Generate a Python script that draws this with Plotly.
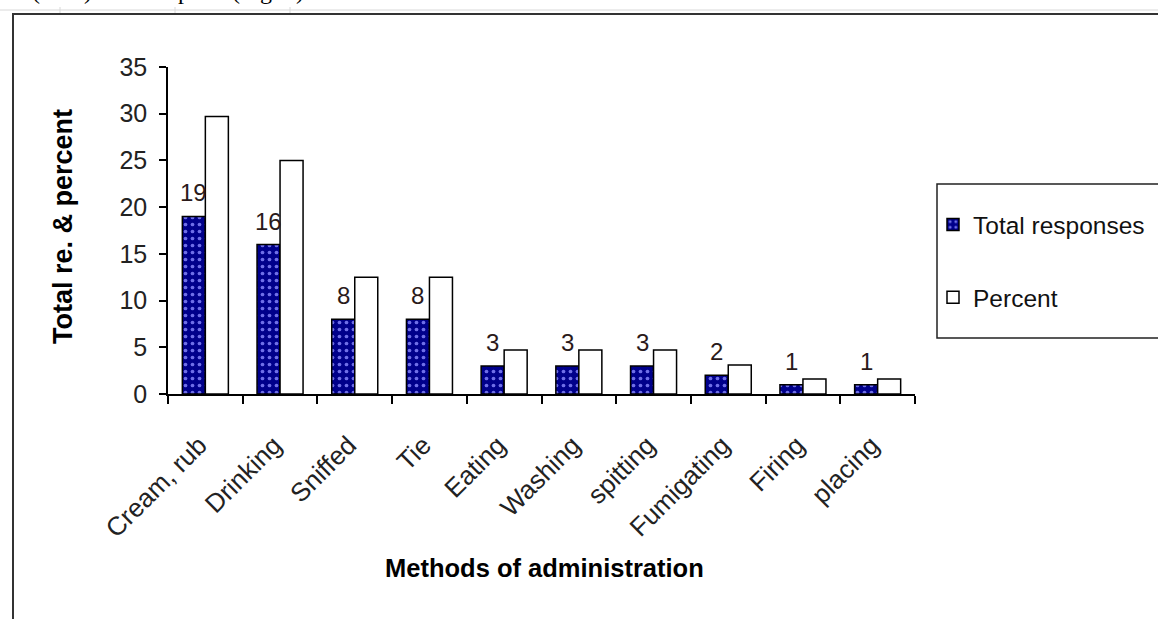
import plotly.graph_objects as go

# Methods of administration and response counts
methods = ["Cream, rub", "Drinking", "Sniffed", "Tie", "Eating", "Washing",
           "spitting", "Fumigating", "Firing", "placing"]
total_responses = [19, 16, 8, 8, 3, 3, 3, 2, 1, 1]
percent = [29.7, 25.0, 12.5, 12.5, 4.7, 4.7, 4.7, 3.1, 1.6, 1.6]
y_ticks = [0, 5, 10, 15, 20, 25, 30, 35]

W, H = 1158, 619
L, R, T, B = 168, 243, 67, 225
PW, PH = W - L - R, H - T - B


def px_x(p):
    return (p - L) / PW


def px_y(p):
    return (H - B - p) / PH


FONT = "Liberation Sans, Arial, sans-serif"

fig = go.Figure()
fig.add_trace(go.Bar(
    x=methods, y=total_responses, name="Total responses",
    legendgroup="a",
    marker=dict(color="#00008b",
                line=dict(color="#000000", width=1.5),
                pattern=dict(shape=".", fgcolor="#6f6fe8", bgcolor="#00008b",
                             size=7, solidity=0.22, fillmode="replace")),
))
fig.add_trace(go.Bar(
    x=methods, y=percent, name="Percent",
    legendgroup="b",
    marker=dict(color="#ffffff", line=dict(color="#000000", width=1.5)),
))

annotations = []
# value labels above the response bars
for m, v in zip(methods, total_responses):
    annotations.append(dict(
        x=m, y=v, xref="x", yref="y", text=str(v), showarrow=False,
        xshift=-11.5, yanchor="bottom", yshift=8,
        font=dict(family=FONT, size=24, color="#2a1a1a"),
    ))
# axis titles
annotations.append(dict(
    x=px_x(544), y=px_y(568), xref="paper", yref="paper",
    text="<b>Methods of administration</b>", showarrow=False,
    xanchor="center", yanchor="middle",
    font=dict(family=FONT, size=25.5, color="#000000"),
))
annotations.append(dict(
    x=px_x(63), y=px_y(227), xref="paper", yref="paper",
    text="<b>Total re. & percent</b>", showarrow=False, textangle=-90,
    xanchor="center", yanchor="middle",
    font=dict(family=FONT, size=27, color="#000000"),
))
# running text of the page above the chart
annotations.append(dict(
    x=px_x(0), y=px_y(6), xref="paper", yref="paper",
    text="16 (25%) of the reports (Fig. 3).", showarrow=False,
    xanchor="left", yanchor="bottom",
    font=dict(family="Liberation Serif, Times New Roman, serif", size=24,
              color="#000000"),
))

shapes = [
    # chart frame
    dict(type="rect", xref="paper", yref="paper",
         x0=px_x(13), x1=px_x(1180), y0=px_y(650), y1=px_y(14),
         line=dict(color="#333333", width=2), fillcolor="rgba(0,0,0,0)",
         layer="below"),
    # legend frame
    dict(type="rect", xref="paper", yref="paper",
         x0=px_x(937), x1=px_x(1180), y0=px_y(338), y1=px_y(184),
         line=dict(color="#222222", width=1.5), fillcolor="#ffffff",
         layer="below"),
    # faint page grid line
    dict(type="line", xref="paper", yref="paper",
         x0=px_x(0), x1=px_x(W), y0=px_y(10), y1=px_y(10),
         line=dict(color="#d8d8d8", width=1)),
]
for gx in [60, 175, 290]:
    shapes.append(dict(type="line", xref="paper", yref="paper",
                       x0=px_x(gx), x1=px_x(gx), y0=px_y(7), y1=px_y(13),
                       line=dict(color="#d8d8d8", width=1)))

fig.update_layout(
    width=W, height=H,
    margin=dict(l=L, r=R, t=T, b=B, autoexpand=False),
    paper_bgcolor="#ffffff", plot_bgcolor="#ffffff",
    barmode="group", bargap=0.384, bargroupgap=0.0,
    font=dict(family=FONT, size=24, color="#222222"),
    showlegend=True,
    legend=dict(x=px_x(933), y=px_y(202), xanchor="left", yanchor="top",
                xref="paper", yref="paper",
                traceorder="grouped", tracegroupgap=38,
                bgcolor="rgba(0,0,0,0)", borderwidth=0,
                font=dict(family=FONT, size=24.5, color="#111111")),
    xaxis=dict(
        type="category", tickangle=-45, tickson="boundaries",
        ticks="outside", ticklen=8, tickwidth=1.5, tickcolor="#000000",
        showline=True, linecolor="#000000", linewidth=1.5,
        showgrid=False, zeroline=False,
        ticklabelstandoff=24, ticklabelshift=-6,
        tickfont=dict(family=FONT, size=26, color="#222222"),
        automargin=False,
    ),
    yaxis=dict(
        range=[0, 35], tickvals=y_ticks, ticks="outside", ticklen=7,
        tickwidth=1.5, tickcolor="#000000",
        showline=True, linecolor="#000000", linewidth=1.5,
        showgrid=False, zeroline=False, ticklabelstandoff=7,
        tickfont=dict(family=FONT, size=25, color="#222222"),
        automargin=False,
    ),
    annotations=annotations,
    shapes=shapes,
)

fig.write_html("out.html")
